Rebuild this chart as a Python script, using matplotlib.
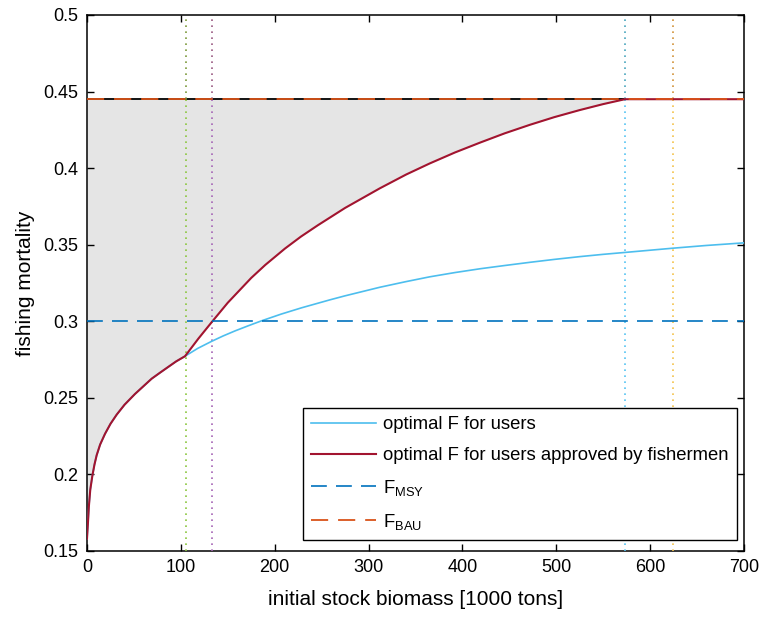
import matplotlib
matplotlib.use('Agg')
import matplotlib.pyplot as plt
from matplotlib.ticker import FormatStrFormatter

plt.rcParams['font.family'] = ['Liberation Sans', 'DejaVu Sans']
plt.rcParams['mathtext.fontset'] = 'custom'
plt.rcParams['mathtext.rm'] = 'Liberation Sans'
plt.rcParams['mathtext.it'] = 'Liberation Sans'

# shared part of both curves (before the kink)
x_low = [0, 1, 2, 3.5, 5.7, 8, 10.3, 14, 19.2, 25, 31.6, 40, 51.1, 60, 68.9, 78, 86.6, 95, 104.5]
f_low = [0.158, 0.168, 0.179, 0.190, 0.199, 0.2065, 0.2125, 0.2195, 0.2265, 0.2330, 0.2390,
         0.2455, 0.2525, 0.2575, 0.2625, 0.2665, 0.2702, 0.2738, 0.2772]

# optimal F for users
x_users = [104.5, 118, 132.8, 145, 157.7, 172, 186, 207, 228.7, 258.9, 274.9, 312, 340, 365,
           392, 419, 445, 472, 498, 525, 550, 578, 624, 660, 700]
f_users = [0.2772, 0.2823, 0.2869, 0.2904, 0.2937, 0.2971, 0.3003, 0.3047, 0.3088, 0.3140,
           0.3166, 0.3222, 0.3259, 0.3290, 0.3318, 0.3343, 0.3364, 0.3385, 0.3404, 0.3422,
           0.3437, 0.3452, 0.3477, 0.3495, 0.3512]

# optimal F for users approved by fishermen
x_appr = [104.5, 118.6, 133, 150, 175, 190, 211, 228, 246, 275, 312, 340, 365, 392,
          419, 445, 472, 498, 525, 550, 573.2, 700]
f_appr = [0.2772, 0.2886, 0.2995, 0.3121, 0.3283, 0.3368, 0.3475, 0.3553, 0.3627, 0.3740,
          0.3868, 0.3958, 0.4030, 0.4102, 0.4167, 0.4227, 0.4283, 0.4333, 0.4379, 0.4418,
          0.445, 0.445]

F_MSY = 0.3
F_BAU = 0.445

# vertical markers
v_x = [105, 133, 573, 624]
v_col_low = ['#8cc63f', '#a565b5', '#55c3f2', '#f4c24c']
v_col_up = ['#7d9a3c', '#9a5a82', '#4aa6be', '#d2923a']

x_users_full = x_low + x_users[1:]
f_users_full = f_low + f_users[1:]
x_appr_full = x_low + x_appr[1:]
f_appr_full = f_low + f_appr[1:]

fig = plt.figure(figsize=(7.63, 6.24), dpi=100)
ax = fig.add_axes([0.114, 0.117, 0.861, 0.859])

# shaded region between approved curve and F_BAU
xs = [x for x in x_appr_full if x <= 573.2]
fs = f_appr_full[:len(xs)]
ax.fill_between(xs, fs, F_BAU, color='#e5e5e5', lw=0, zorder=1)
ax.plot([0, 573.2], [F_BAU, F_BAU], color='black', lw=1.3, zorder=2)

for x, cl, cu in zip(v_x, v_col_low, v_col_up):
    ax.plot([x, x], [0.15, F_BAU], color=cl, lw=1.2, dashes=(1, 2.6), zorder=3)
    ax.plot([x, x], [F_BAU, 0.5], color=cu, lw=1.2, dashes=(1, 2.6), zorder=3)

ax.plot(x_users_full, f_users_full, color='#4DBEEE', lw=1.2, zorder=4,
        label='optimal F for users')
ax.plot(x_appr_full, f_appr_full, color='#A2142F', lw=1.5, zorder=5,
        label='optimal F for users approved by fishermen')
ax.axhline(F_MSY, color='#0072BD', lw=1.2, dashes=(9.5, 5.5), zorder=6,
           label='F$_{\\mathrm{MSY}}$')
ax.axhline(F_BAU, color='#D95319', lw=1.3, dashes=(9.5, 5.5), zorder=6,
           label='F$_{\\mathrm{BAU}}$')

ax.set_xlim(0, 700)
ax.set_ylim(0.15, 0.5)
ax.set_xticks(range(0, 701, 100))
ax.set_yticks([0.15, 0.2, 0.25, 0.3, 0.35, 0.4, 0.45, 0.5])
ax.yaxis.set_major_formatter(FormatStrFormatter('%g'))
ax.tick_params(direction='in', length=5, width=1, top=True, right=True,
               labelsize=13, pad=6)
for s in ax.spines.values():
    s.set_linewidth(1.1)

ax.set_xlabel('initial stock biomass [1000 tons]', fontsize=15, labelpad=10)
ax.set_ylabel('fishing mortality', fontsize=15, labelpad=6)

leg = ax.legend(loc='lower right', bbox_to_anchor=(0.9893, 0.0205), fontsize=13.3,
                handlelength=3.5, fancybox=False, framealpha=1, edgecolor='black',
                borderpad=0.45, labelspacing=0.75, handletextpad=0.4, borderaxespad=0)
leg.get_frame().set_linewidth(1)

fig.savefig('out.png', dpi=100)
